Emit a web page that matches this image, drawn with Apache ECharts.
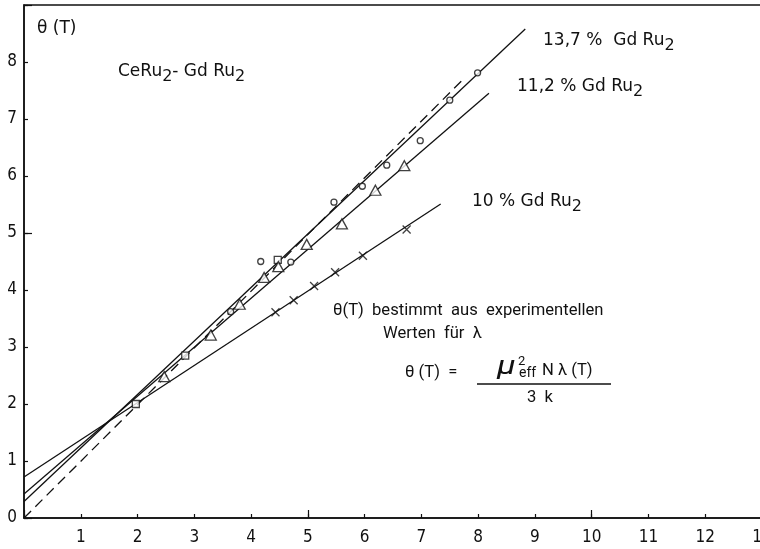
<!DOCTYPE html>
<html><head><meta charset="utf-8">
<script src="https://cdn.jsdelivr.net/npm/echarts@6/dist/echarts.min.js"></script>
<style>html,body{margin:0;padding:0;background:#fff}#c{width:760px;height:549px}</style>
</head><body><div id="c"></div>
<script>
// ---- data ----
const xTickLabels = ['', '1', '2', '3', '4', '5', '6', '7', '8', '9', '10', '11', '12', '13'];
const yTickLabels = ['0', '1', '2', '3', '4', '5', '6', '7', '8', ''];
const circles137 = [[3.64,3.62],[4.17,4.50],[4.70,4.49],[5.46,5.54],[5.96,5.82],[6.39,6.19],[6.98,6.62],[7.50,7.33],[7.99,7.81]];
const squares = [[1.97,2.00],[2.84,2.85],[4.47,4.53]];
const triangles112 = [[2.47,2.48],[3.29,3.21],[3.80,3.75],[4.23,4.22],[4.48,4.41],[4.98,4.80],[5.60,5.16],[6.19,5.75],[6.70,6.18]];
const crosses10 = [[4.43,3.61],[4.75,3.82],[5.11,4.07],[5.48,4.31],[5.97,4.60],[6.74,5.06]];
const fit137 = [[0,0.29],[8.83,8.58]];
const fit112 = [[0,0.42],[8.19,7.45]];
const fit10 = [[0,0.72],[7.34,5.51]];
const fitDashed = [[0,0],[7.72,7.68]];

const INK = '#111111';
const FONT = "'Liberation Sans Narrow', 'DejaVu Sans Condensed', Roboto, sans-serif";
const WFONT = "'DejaVu Sans', Roboto, sans-serif";
const TFONT = "Roboto, 'Open Sans', sans-serif";

const chart = echarts.init(document.getElementById('c'), null, {renderer: 'canvas'});

function txt(x, y, text, size, rich, extra, props) {
  return Object.assign({
    type: 'text', x: x, y: y, z: 100,
    style: Object.assign({
      text: text, fill: INK, fontFamily: TFONT, fontSize: size,
      verticalAlign: 'middle', align: 'left', lineHeight: 26, rich: rich || {}
    }, extra || {})
  }, props || {});
}
const subRich = (fs, fam) => ({ s: { fontSize: fs, fontFamily: fam, fill: INK, verticalAlign: 'bottom', lineHeight: 14 } });

const option = {
  backgroundColor: '#fff',
  animation: false,
  grid: { left: 24, right: -2, top: 5, bottom: 31, show: true, borderColor: INK, borderWidth: 1.5,
          containLabel: false, outerBoundsMode: 'none' },
  xAxis: [
    { type: 'value', min: 0, max: 13, interval: 1, position: 'bottom',
      axisLine: { show: true, lineStyle: { color: INK, width: 1.5 } },
      axisTick: { show: true, inside: true, length: 4, lineStyle: { color: INK, width: 1.2 } },
      axisLabel: { margin: 11, color: INK, fontSize: 17, fontFamily: FONT, hideOverlap: false,
        formatter: (v) => xTickLabels[Math.round(v)] || '' , showMaxLabel: true, showMinLabel: true },
      splitLine: { show: false } },
    { type: 'value', min: 0, max: 13, interval: 5, position: 'bottom',
      axisLine: { show: false },
      axisTick: { show: true, inside: true, length: 8, lineStyle: { color: INK, width: 1.2 } },
      axisLabel: { show: false }, splitLine: { show: false } }
  ],
  yAxis: [
    { type: 'value', min: 0, max: 9, interval: 1, position: 'left',
      axisLine: { show: true, lineStyle: { color: INK, width: 1.5 } },
      axisTick: { show: true, inside: true, length: 4, lineStyle: { color: INK, width: 1.2 } },
      axisLabel: { margin: 7, color: INK, fontSize: 17, fontFamily: FONT,
        formatter: (v) => { const s = yTickLabels[Math.round(v)]; return s === undefined ? '' : s; } },
      splitLine: { show: false } },
    { type: 'value', min: 0, max: 9, interval: 5, position: 'left',
      axisLine: { show: false },
      axisTick: { show: true, inside: true, length: 8, lineStyle: { color: INK, width: 1.2 } },
      axisLabel: { show: false }, splitLine: { show: false } }
  ],
  series: [
    { name: 'fit 13,7', type: 'line', data: fit137, symbol: 'none', z: 2,
      lineStyle: { color: INK, width: 1.3 } },
    { name: 'fit 11,2', type: 'line', data: fit112, symbol: 'none', z: 2,
      lineStyle: { color: INK, width: 1.3 } },
    { name: 'fit 10', type: 'line', data: fit10, symbol: 'none', z: 2,
      lineStyle: { color: INK, width: 1.3 } },
    { name: 'dashed', type: 'line', data: fitDashed, symbol: 'none', z: 2,
      lineStyle: { color: INK, width: 1.3, type: [10, 6] } },
    { name: '13,7 %', type: 'scatter', data: circles137, symbol: 'circle', symbolSize: 6, z: 3,
      itemStyle: { color: '#fff', borderColor: INK, borderWidth: 1.3 } },
    { name: 'squares', type: 'scatter', data: squares, symbol: 'rect', symbolSize: 7, z: 3,
      itemStyle: { color: '#fff', borderColor: INK, borderWidth: 1.3 } },
    { name: '11,2 %', type: 'scatter', data: triangles112, symbol: 'triangle', symbolSize: [11, 10], z: 3,
      itemStyle: { color: '#fff', borderColor: INK, borderWidth: 1.3 } },
    { name: '10 %', type: 'scatter', data: crosses10, symbol: 'path://M0,0L10,10M10,0L0,10', symbolSize: 8, z: 3,
      itemStyle: { color: 'none', borderColor: INK, borderWidth: 1.3 } }
  ],
  graphic: [
    txt(37, 29, 'θ (T)', 17, null, { fontFamily: WFONT }),
    txt(118, 72, 'CeRu{s|2}- Gd Ru{s|2}', 17, subRich(16, WFONT), { fontFamily: WFONT }),
    txt(543, 41, '13,7 %  Gd Ru{s|2}', 17, subRich(16, WFONT), { fontFamily: WFONT }),
    txt(517, 87, '11,2 % Gd Ru{s|2}', 17, subRich(16, WFONT), { fontFamily: WFONT }),
    txt(472, 202, '10 % Gd Ru{s|2}', 17, subRich(16, WFONT), { fontFamily: WFONT }),
    txt(333, 311, 'θ(T)  bestimmt  aus  experimentellen', 16.6),
    txt(383, 334, 'Werten  für  λ', 16.6),
    txt(405, 373, 'θ (T)  =', 16.6),
    txt(497, 368, 'μ', 25, null, { fontStyle: 'italic' }, { scaleX: 1.35 }),
    txt(518, 362, '2', 13),
    txt(519, 373, 'eff', 14),
    txt(542, 371, 'N λ (T)', 16.6),
    { type: 'line', z: 100, shape: { x1: 477, y1: 384, x2: 611, y2: 384 }, style: { stroke: INK, lineWidth: 1.3 } },
    txt(527, 398, '3  k', 16.6)
  ]
};
chart.setOption(option);
</script>
</body></html>
